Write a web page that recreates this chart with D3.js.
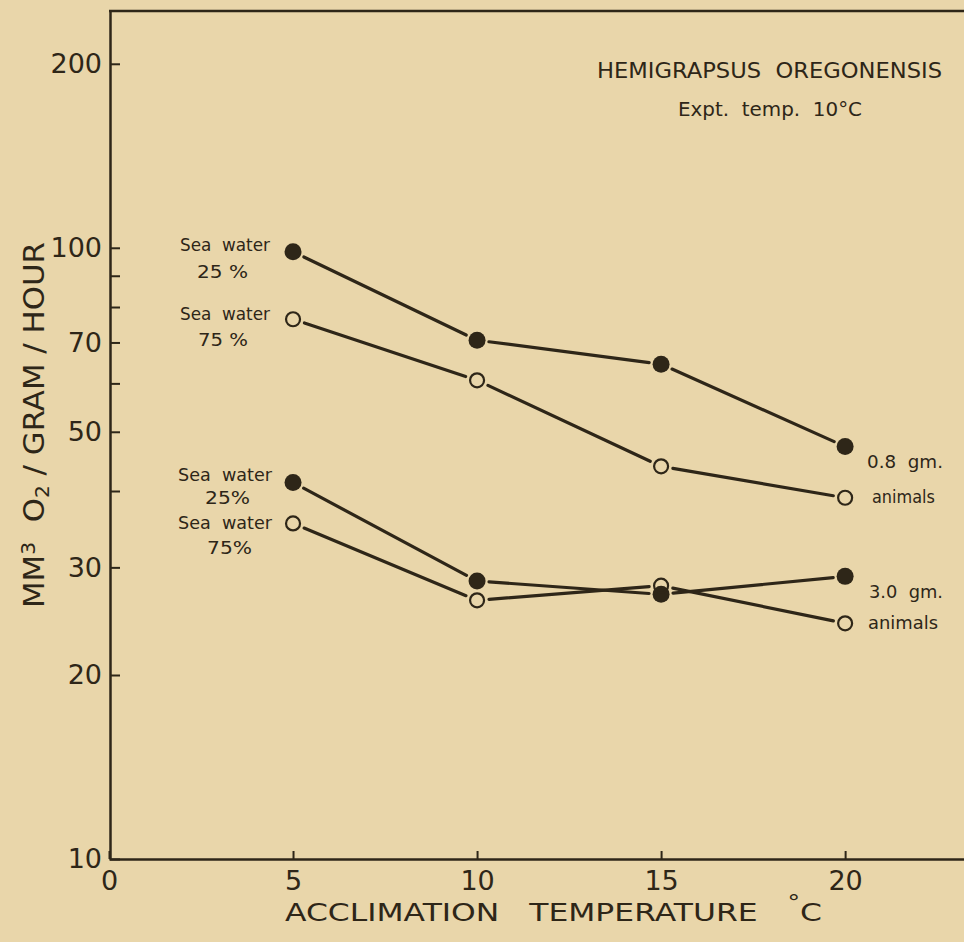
<!DOCTYPE html>
<html>
<head>
<meta charset="utf-8">
<script src="https://cdn.jsdelivr.net/npm/d3@7"></script>
<style>
  body { margin: 0; background: #e9d6aa; }
  text { font-family: "DejaVu Sans", sans-serif; fill: #2e2618; white-space: pre; }
</style>
</head>
<body>
<div id="chart"></div>
<script>
// values (mm3 O2 / gram / hour)
var temps = [5, 10, 15, 20];
var small25 = [98.5, 70.6, 64.5, 47.3];
var small75 = [76.4, 60.7, 43.9, 39.0];
var large25 = [41.3, 28.5, 27.1, 29.0];
var large75 = [35.4, 26.5, 28.0, 24.3];

var xTicks = [0, 5, 10, 15, 20];
var yTicks = [10, 20, 30, 40, 50, 60, 70, 80, 90, 100, 200];
var yLabels = [10, 20, 30, 50, 70, 100, 200];

var width = 964;
var height = 942;
var ink = "#2e2618";

var x = d3.scaleLinear().domain([0, 23.23]).range([109, 964]);
var y = d3.scaleLog().domain([10, 244]).range([859, 11]);

var svg = d3.select("#chart").append("svg")
  .attr("width", width)
  .attr("height", height);

svg.append("rect")
  .attr("width", width)
  .attr("height", height)
  .attr("fill", "#e9d6aa");

// left axis, ticks pointing into the plot
var yAxis = svg.append("g")
  .attr("transform", "translate(110,0)")
  .call(d3.axisLeft(y)
    .tickValues(yTicks)
    .tickSize(-10)
    .tickSizeOuter(0)
    .tickPadding(8)
    .tickFormat(function(d) { return yLabels.indexOf(d) >= 0 ? d : ""; }));

yAxis.selectAll("text")
  .attr("font-size", 27)
  .attr("fill", ink);
yAxis.selectAll("line").attr("stroke", ink).attr("stroke-width", 2);
yAxis.select(".domain").attr("stroke", ink).attr("stroke-width", 2.5);

// bottom axis
var xAxis = svg.append("g")
  .attr("transform", "translate(0,859)")
  .call(d3.axisBottom(x)
    .tickValues(xTicks)
    .tickSize(-8)
    .tickSizeOuter(0)
    .tickPadding(12));

xAxis.selectAll("text")
  .attr("font-size", 27)
  .attr("fill", ink);
xAxis.selectAll("line").attr("stroke", ink).attr("stroke-width", 2);
xAxis.select(".domain").attr("stroke", ink).attr("stroke-width", 2.5);

// top frame line
svg.append("line")
  .attr("x1", x(0)).attr("x2", x(23.23))
  .attr("y1", y(244)).attr("y2", y(244))
  .attr("stroke", ink)
  .attr("stroke-width", 2.5);

// annotations
function note(txt, px, py, size, len, anchor) {
  return svg.append("text")
    .attr("x", px)
    .attr("y", py)
    .attr("font-size", size)
    .attr("text-anchor", anchor || "start")
    .attr("textLength", len)
    .attr("lengthAdjust", "spacingAndGlyphs")
    .text(txt);
}

// axis titles
var xTitle = note("ACCLIMATION   TEMPERATURE   ", 285, 921, 25, 537);
xTitle.append("tspan").attr("font-size", 20).attr("dy", -12).text("°");
xTitle.append("tspan").attr("dy", 12).text("C");

var yTitle = svg.append("text")
  .attr("transform", "translate(44,425) rotate(-90)")
  .attr("text-anchor", "middle")
  .attr("font-size", 29)
  .attr("textLength", 366)
  .attr("lengthAdjust", "spacingAndGlyphs");
yTitle.append("tspan").text("MM");
yTitle.append("tspan").attr("font-size", 19).attr("baseline-shift", "45%").text("3");
yTitle.append("tspan").text("  O");
yTitle.append("tspan").attr("font-size", 19).attr("baseline-shift", "-25%").text("2");
yTitle.append("tspan").text(" / GRAM / HOUR");

// series: lines broken short of each marker
var series = [
  {values: small25, filled: true},
  {values: small75, filled: false},
  {values: large25, filled: true},
  {values: large75, filled: false}
];

var gap = 12;
series.forEach(function(s) {
  var pts = temps.map(function(t, i) { return [x(t), y(s.values[i])]; });
  for (var i = 0; i < pts.length - 1; i++) {
    var a = pts[i], b = pts[i + 1];
    var dx = b[0] - a[0], dy = b[1] - a[1];
    var len = Math.sqrt(dx * dx + dy * dy);
    var ux = dx / len, uy = dy / len;
    svg.append("line")
      .attr("x1", a[0] + ux * gap).attr("y1", a[1] + uy * gap)
      .attr("x2", b[0] - ux * gap).attr("y2", b[1] - uy * gap)
      .attr("stroke", ink)
      .attr("stroke-width", 3.2)
      .attr("stroke-linecap", "round");
  }
});

series.forEach(function(s) {
  svg.selectAll(null)
    .data(s.values)
    .enter().append("circle")
    .attr("cx", function(d, i) { return x(temps[i]); })
    .attr("cy", function(d) { return y(d); })
    .attr("r", s.filled ? 8.5 : 7)
    .attr("fill", s.filled ? ink : "none")
    .attr("stroke", ink)
    .attr("stroke-width", s.filled ? 0 : 2.2);
});

note("HEMIGRAPSUS  OREGONENSIS", 597, 78, 22, 345);
note("Expt.  temp.  10°C", 678, 116, 20, 184);

note("Sea  water", 180, 251, 17, 90);
note("25 %", 197, 278, 17, 51);
note("Sea  water", 180, 320, 17, 90);
note("75 %", 198, 346, 17, 50);

note("Sea  water", 178, 481, 17, 94);
note("25%", 205, 504, 17, 45);
note("Sea  water", 178, 529, 17, 94);
note("75%", 207, 554, 17, 45);

note("0.8  gm.", 867, 468, 17, 76);
note("animals", 872, 503, 17, 63);
note("3.0  gm.", 869, 598, 17, 74);
note("animals", 868, 629, 17, 70);
</script>
</body>
</html>
